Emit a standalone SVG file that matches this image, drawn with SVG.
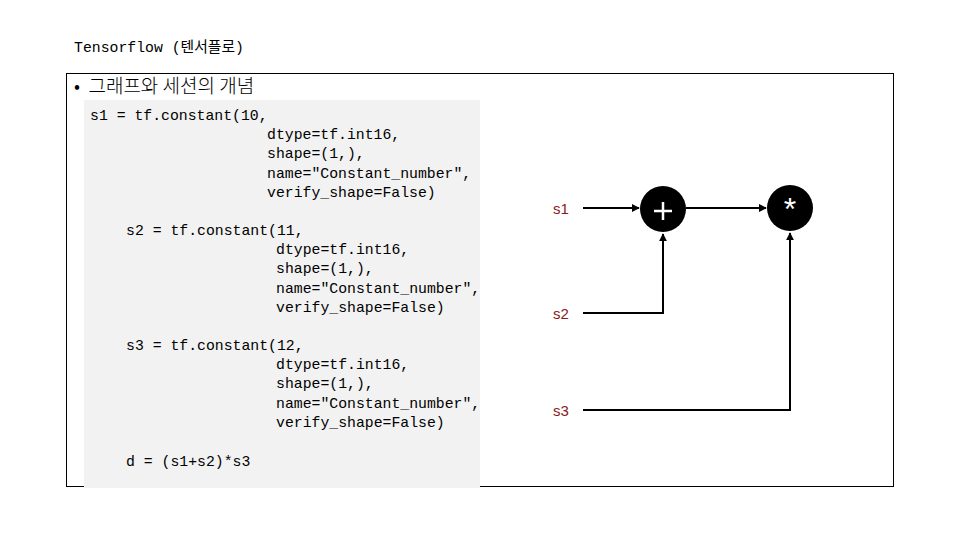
<svg xmlns="http://www.w3.org/2000/svg" width="960" height="540" viewBox="0 0 960 540">
<style>
.code{font-family:"Liberation Mono",monospace;font-size:14.8px;fill:#000}
.lbl{font-family:"Liberation Sans",sans-serif;font-size:15px;fill:#8b1a1a}
.ln{fill:none;stroke:#000;stroke-width:2}
</style>
<defs><marker id="a" viewBox="0 0 10 10" refX="9" refY="5" markerWidth="4" markerHeight="4" orient="auto"><path d="M0,0L10,5L0,10z"/></marker></defs>
<rect width="960" height="540" fill="#fff"/>
<text x="74" y="52" class="code" style="font-family:'Liberation Mono','Noto Sans CJK KR',monospace">Tensorflow (텐서플로)</text>
<rect x="66.5" y="73.5" width="827" height="413" fill="none" stroke="#000"/>
<text x="74" y="93" style="font-family:'Noto Sans CJK KR',sans-serif;font-size:19px;font-weight:300" xml:space="preserve">•  그래프와 세션의 개념</text>
<rect x="84" y="100" width="396" height="388" fill="#f2f2f2"/>
<g class="code" xml:space="preserve">
<text x="90" y="120">s1 = tf.constant(10,</text>
<text x="267" y="139">dtype=tf.int16,</text>
<text x="267" y="158">shape=(1,),</text>
<text x="267" y="178">name="Constant_number",</text>
<text x="267" y="197">verify_shape=False)</text>
<text x="126" y="235">s2 = tf.constant(11,</text>
<text x="276" y="254">dtype=tf.int16,</text>
<text x="276" y="273">shape=(1,),</text>
<text x="276" y="293">name="Constant_number",</text>
<text x="276" y="312">verify_shape=False)</text>
<text x="126" y="350">s3 = tf.constant(12,</text>
<text x="276" y="369">dtype=tf.int16,</text>
<text x="276" y="388">shape=(1,),</text>
<text x="276" y="408">name="Constant_number",</text>
<text x="276" y="427">verify_shape=False)</text>
<text x="126" y="466">d = (s1+s2)*s3</text>
</g>
<g id="s1"><text x="553" y="214" class="lbl">s1</text></g>
<g id="s2"><text x="553" y="319" class="lbl">s2</text></g>
<g id="s3"><text x="553" y="416" class="lbl">s3</text></g>
<g id="plus"><circle cx="663" cy="209" r="23"/><path d="M654,211h18M663,202v18" stroke="#fff" stroke-width="2.5"/></g>
<g id="mul"><circle cx="790" cy="208" r="23"/><text x="790" y="220" text-anchor="middle" style="font-family:'Liberation Sans',sans-serif;font-size:32px;fill:#fff">*</text></g>
<g id="connectors">
<path class="ln" d="M583,208H639" marker-end="url(#a)"/>
<path class="ln" d="M686,208H766" marker-end="url(#a)"/>
<path class="ln" d="M583,313H663V234" marker-end="url(#a)"/>
<path class="ln" d="M583,410H790V233" marker-end="url(#a)"/>
</g>
</svg>
